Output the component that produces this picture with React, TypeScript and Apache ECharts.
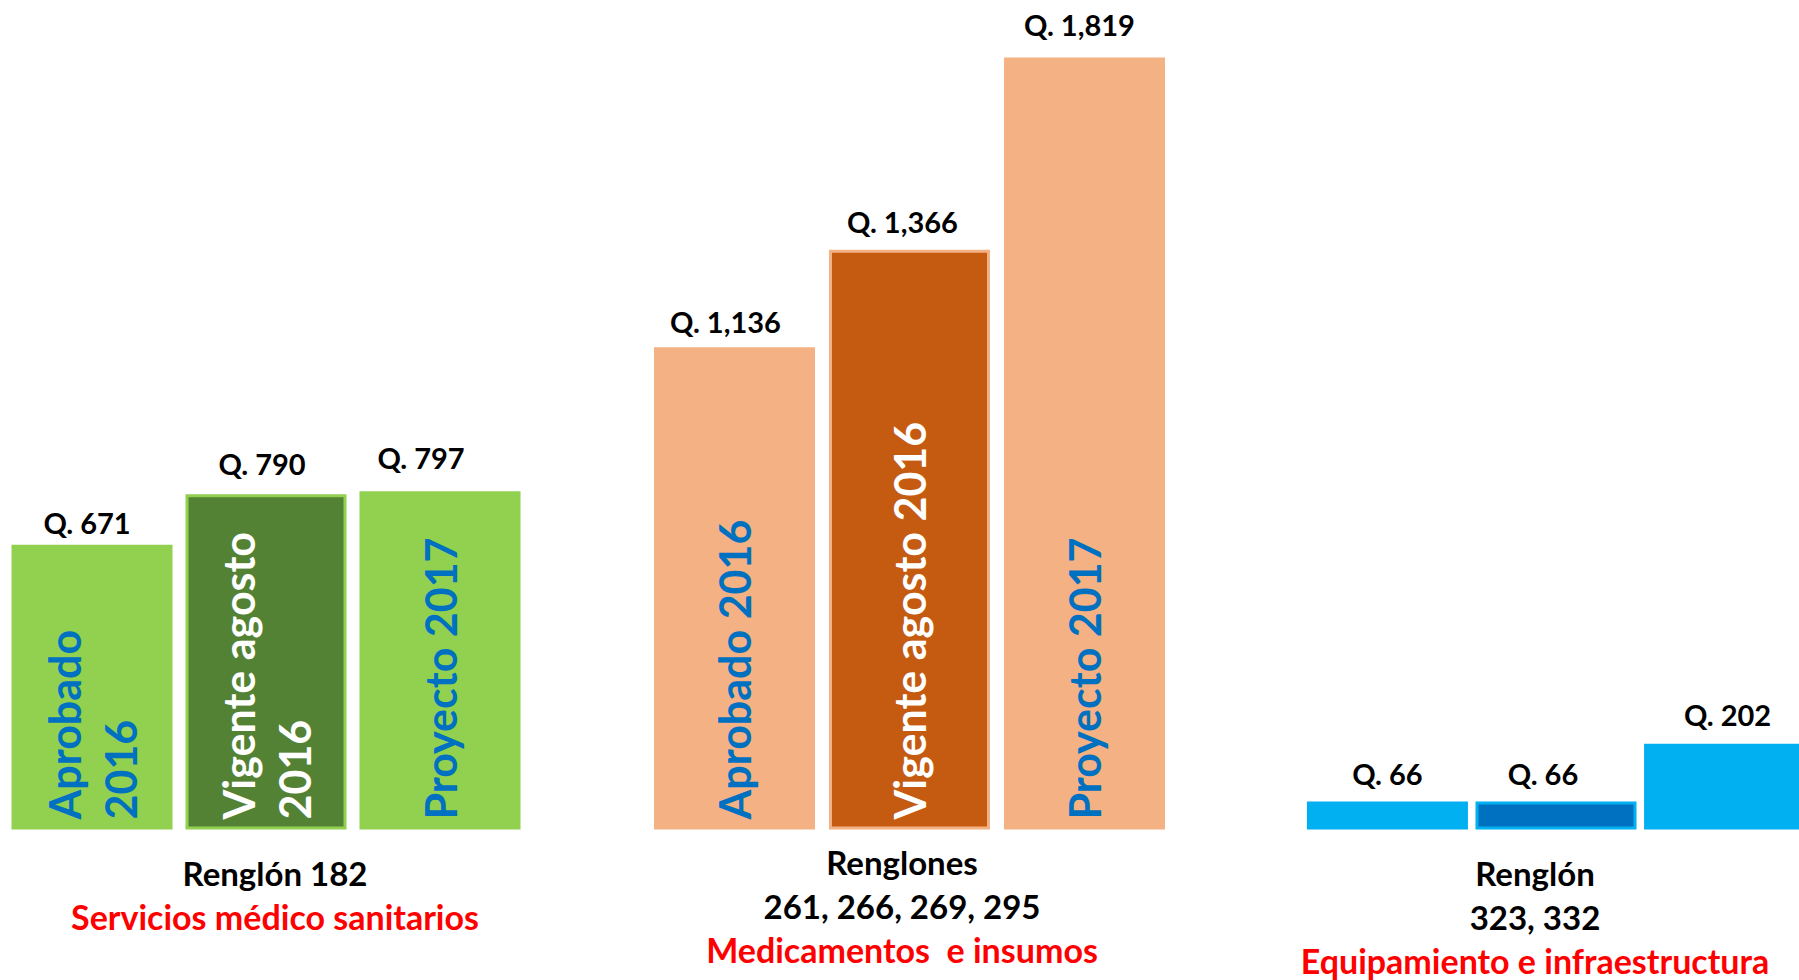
import React, { useEffect, useRef } from "react";
import * as echarts from "echarts";

// ---- data ----
const categories = ["Aprobado 2016", "Vigente agosto 2016", "Proyecto 2017"];
const values182 = [671, 790, 797];
const values261 = [1136, 1366, 1819];
const values323 = [66, 66, 202];
const insideLabels182 = ["Aprobado\n2016", "Vigente agosto\n2016", "Proyecto 2017"];
const insideLabels261 = ["Aprobado 2016", "Vigente agosto 2016", "Proyecto 2017"];
const captions = [["Renglón 182"], ["Renglones", "261, 266, 269, 295"], ["Renglón", "323, 332"]];
const subtitles = ["Servicios médico sanitarios", "Medicamentos  e insumos", "Equipamiento e infraestructura"];

// ---- styles / layout ----
const FONT = "Lato";
const lightColors = ["#92D050", "#F4B183", "#00B0F0"];
const darkColors = ["#548235", "#C55A11", "#0070C0"];
const gridLefts = [5, 647, 1313];
const gridRights = [1799 - 527, 1799 - 1172, 0];
const captionX = [275, 902, 1535];
const captionTop = [873, 862, 873];
const LINE = 43.5;
// per-bar small nudges of the value labels [dx, dy]
const labelNudges = [
  [[-5, 6], [-4, -3], [-19, -6]],
  [[-9, 2], [-7, 0], [-5, -5]],
  [[0, 0], [-13, 0], [3, -1]],
];

const fmt = (v: number) => "Q. " + v.toLocaleString("en-US");

const valueLabel = {
  show: true,
  position: "top",
  distance: 13.5,
  fontFamily: FONT,
  fontWeight: "bold",
  fontSize: 29,
  color: "#000000",
  formatter: (p: any) => fmt(p.value),
};

export default function App() {
  const ref = useRef<HTMLDivElement>(null);
  useEffect(() => {
    if (!ref.current) return;
    const chart = echarts.init(ref.current, undefined, { renderer: "svg" });
    const groupsWithText = [values182, values261];
    const insides = [insideLabels182, insideLabels261];

    const grid = [0, 1, 2].map((g) => ({
      left: gridLefts[g],
      right: gridRights[g],
      top: 23,
      bottom: 150.5,
      containLabel: false,
    }));
    const xAxis = [0, 1, 2].map((g) => ({
      type: "category",
      gridIndex: g,
      data: g < 2 ? categories : ["Renglón 323, 332"],
      show: false,
    }));
    const yAxis = [0, 1, 2].map((g) => ({
      type: "value",
      gridIndex: g,
      min: 0,
      max: 1900,
      show: false,
    }));
    const series: any[] = [];
    groupsWithText.forEach((vals, g) => {
      series.push({
        type: "bar",
        xAxisIndex: g,
        yAxisIndex: g,
        barWidth: 161,
        barGap: "-100%",
        clip: false,
        data: vals.map((v, i) => ({
          value: v,
          itemStyle: {
            color: i === 1 ? darkColors[g] : lightColors[g],
            borderColor: lightColors[g],
            borderWidth: i === 1 ? 3 : 0,
          },
          label: { color: i === 1 ? "#FFFFFF" : "#0070C0" },
        })),
        label: {
          show: true,
          position: "insideBottom",
          rotate: 90,
          align: "left",
          verticalAlign: "middle",
          distance: 10,
          fontFamily: FONT,
          fontWeight: "bold",
          fontSize: 43,
          lineHeight: 56,
          formatter: (p: any) => insides[g][p.dataIndex],
        },
      });
      series.push({
        type: "bar",
        xAxisIndex: g,
        yAxisIndex: g,
        barWidth: 161,
        barGap: "-100%",
        clip: false,
        itemStyle: { color: "transparent" },
        data: vals.map((v, i) => ({
          value: v,
          label: { offset: labelNudges[g][i] },
        })),
        label: valueLabel,
      });
    });
    // third group: one category, three side-by-side series
    values323.forEach((v, i) => {
      series.push({
        type: "bar",
        name: categories[i],
        xAxisIndex: 2,
        yAxisIndex: 2,
        barWidth: 161,
        barGap: "4.7%",
        clip: false,
        itemStyle: {
          color: i === 1 ? darkColors[2] : lightColors[2],
          borderColor: lightColors[2],
          borderWidth: i === 1 ? 3 : 0,
        },
        data: [{ value: v, label: { offset: labelNudges[2][i] } }],
        label: valueLabel,
      });
    });

    const graphic: any[] = [];
    captions.forEach((lines, g) => {
      lines.forEach((t, k) => {
        graphic.push({
          type: "text",
          x: captionX[g],
          y: captionTop[g] + k * LINE,
          style: {
            text: t,
            fill: "#000000",
            font: `bold 33px ${FONT}`,
            textAlign: "center",
            textVerticalAlign: "middle",
          },
        });
      });
      graphic.push({
        type: "text",
        x: captionX[g],
        y: captionTop[g] + lines.length * LINE,
        style: {
          text: subtitles[g],
          fill: "#FF0000",
          font: `bold 34px ${FONT}`,
          textAlign: "center",
          textVerticalAlign: "middle",
        },
      });
    });

    chart.setOption({
      animation: false,
      backgroundColor: "#FFFFFF",
      grid,
      xAxis,
      yAxis,
      series,
      graphic,
    });
    return () => chart.dispose();
  }, []);
  return (
    <div
      ref={ref}
      style={{ position: "absolute", left: 0, top: 0, width: 1799, height: 980 }}
    />
  );
}
